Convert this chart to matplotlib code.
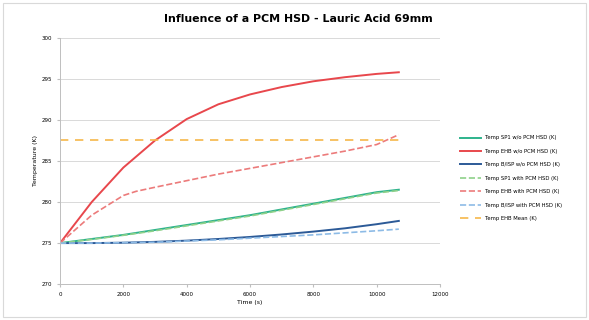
import numpy as np
import matplotlib.pyplot as plt

time_s = [0, 1000, 2000, 3000, 4000, 5000, 6000, 7000, 8000, 9000, 10000, 10700]

sp1_without = [275.0, 275.5, 276.0, 276.6, 277.2, 277.8, 278.4, 279.1, 279.8, 280.5, 281.2, 281.5]
ehb_without = [275.0, 280.0, 284.2, 287.5, 290.1, 291.9, 293.1, 294.0, 294.7, 295.2, 295.6, 295.8]
bisp_without = [275.0, 275.0, 275.05, 275.15, 275.3, 275.5, 275.75, 276.05, 276.4, 276.8, 277.3, 277.7]
sp1_with = [275.0, 275.45, 275.95, 276.5, 277.1, 277.7, 278.3, 279.0, 279.7, 280.4, 281.1, 281.4]
ehb_time = [0, 1000, 2000, 2400, 3000, 4000, 5000, 6000, 7000, 8000, 9000, 10000, 10700]
ehb_with = [275.0, 278.4, 280.8, 281.3, 281.8, 282.6, 283.4, 284.1, 284.8, 285.5, 286.2, 287.0, 288.2]
bisp_with = [275.0, 275.0, 275.05, 275.1, 275.25, 275.4, 275.6, 275.8, 276.0, 276.25, 276.5, 276.7]
ehb_mean = 287.6

labels = ['Temp SP1 w/o PCM HSD (K)', 'Temp EHB w/o PCM HSD (K)', 'Temp B/ISP w/o PCM HSD (K)',
          'Temp SP1 with PCM HSD (K)', 'Temp EHB with PCM HSD (K)', 'Temp B/ISP with PCM HSD (K)',
          'Temp EHB Mean (K)']

fig = plt.figure(figsize=(5.89, 3.2), dpi=100)
ax = fig.add_axes([0.102, 0.112, 0.645, 0.77])

ax.plot(time_s, sp1_without, color='#2eb38c', lw=1.4, label=labels[0])
ax.plot(time_s, ehb_without, color='#e8474c', lw=1.4, label=labels[1])
ax.plot(time_s, bisp_without, color='#2c5a97', lw=1.4, label=labels[2])
ax.plot(time_s, sp1_with, color='#8fd18a', lw=1.2, ls='--', label=labels[3])
ax.plot(ehb_time, ehb_with, color='#ec7b7b', lw=1.2, ls='--', label=labels[4])
ax.plot(time_s, bisp_with, color='#8dbbe6', lw=1.2, ls='--', label=labels[5])
ax.plot([time_s[0], time_s[-1]], [ehb_mean, ehb_mean], color='#f6b84a', lw=1.2,
        ls=(0, (5, 4)), label=labels[6])

ax.set_xlim(0, 12000)
ax.set_ylim(270, 300)
ax.set_xticks(np.arange(0, 12001, 2000))
ax.set_yticks(np.arange(270, 301, 5))
ax.tick_params(labelsize=4, length=2, color='#bfbfbf')
ax.yaxis.grid(True, color='#d9d9d9', lw=0.7)
ax.set_axisbelow(True)
for side in ['top', 'right']:
    ax.spines[side].set_visible(False)
for side in ['left', 'bottom']:
    ax.spines[side].set_color('#bfbfbf')
    ax.spines[side].set_linewidth(0.7)
ax.set_xlabel('Time (s)', fontsize=4.5, labelpad=2)
ax.set_ylabel('Temperature (K)', fontsize=4.5, labelpad=3)
fig.suptitle('Influence of a PCM HSD - Lauric Acid 69mm', fontsize=7.9, fontweight='bold',
             x=0.506, y=0.955)

ax.legend(loc='center left', bbox_to_anchor=(1.04, 0.43), fontsize=3.8, frameon=False,
          handlelength=4, labelspacing=1.6)

fig.patches.append(plt.Rectangle((0.005, 0.01), 0.99, 0.98, transform=fig.transFigure,
                                 fill=False, edgecolor='#d9d9d9', lw=0.8))

fig.savefig('out.png', dpi=100)
